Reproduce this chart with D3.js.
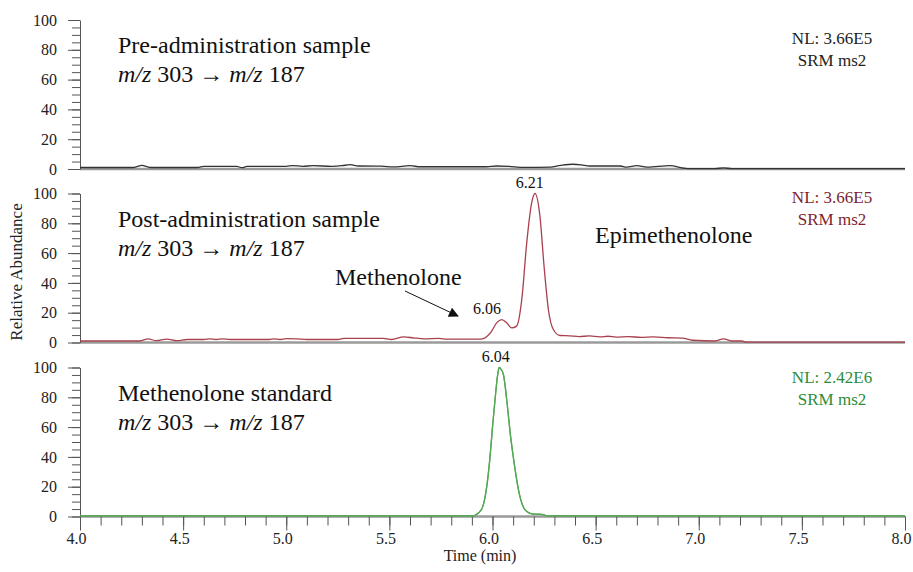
<!DOCTYPE html>
<html>
<head>
<meta charset="utf-8">
<title>SRM chromatograms m/z 303 - 187</title>
<script src="https://d3js.org/d3.v7.min.js"></script>
<style>
  body { margin: 0; background: #fff; }
  text { font-family: "Liberation Serif", "Times New Roman", serif; }
</style>
</head>
<body>
<div id="chart"></div>
<script>
  // ---- data ----
  const timeTicks = [4.0, 4.5, 5.0, 5.5, 6.0, 6.5, 7.0, 7.5, 8.0];
  const abundanceTicks = [0, 20, 40, 60, 80, 100];

  const panelNames = ["Pre-administration sample", "Post-administration sample", "Methenolone standard"];
  const normLevels = ["NL: 3.66E5", "NL: 3.66E5", "NL: 2.42E6"];
  const scanTypes = ["SRM ms2", "SRM ms2", "SRM ms2"];

  const preTime  = [4.00, 4.26, 4.30, 4.34, 4.57, 4.60, 4.76, 4.785, 4.81, 5.00, 5.03, 5.08, 5.13, 5.22, 5.27, 5.31, 5.35, 5.46, 5.52, 5.60, 5.65, 5.97, 6.02, 6.08, 6.15, 6.28, 6.33, 6.39, 6.43, 6.47, 6.62, 6.65, 6.70, 6.75, 6.86, 6.93, 6.95, 7.08, 7.12, 7.16, 8.00];
  const preValue = [1.0, 1.0, 2.4, 1.0, 1.0, 1.8, 1.8, 0.9, 1.7, 1.8, 2.3, 1.8, 2.2, 1.8, 2.2, 2.9, 2.0, 1.9, 1.4, 2.2, 1.5, 1.5, 2.0, 1.8, 1.1, 1.3, 2.4, 3.2, 2.8, 2.0, 2.0, 1.2, 2.2, 1.3, 2.2, 0.5, 0.2, 0.2, 0.8, 0.2, 0.2];

  const postTime  = [4.00, 4.29, 4.33, 4.37, 4.42, 4.47, 4.52, 4.60, 4.63, 4.66, 4.69, 4.73, 4.92, 4.94, 4.97, 5.00, 5.05, 5.10, 5.25, 5.28, 5.47, 5.51, 5.57, 5.62, 5.67, 5.74, 5.78, 5.94, 5.964, 5.996, 6.02, 6.045, 6.069, 6.093, 6.117, 6.142, 6.166, 6.19, 6.206, 6.23, 6.25, 6.271, 6.295, 6.327, 6.375, 6.42, 6.47, 6.52, 6.56, 6.60, 6.66, 6.72, 6.78, 6.85, 6.92, 6.97, 7.08, 7.12, 7.16, 7.21, 7.23, 8.00];
  const postValue = [1.0, 1.0, 2.5, 1.2, 2.3, 1.2, 2.0, 2.0, 2.5, 2.0, 2.5, 2.0, 2.0, 2.5, 2.0, 2.6, 2.4, 2.0, 2.0, 2.8, 2.8, 2.0, 3.8, 3.0, 2.5, 2.8, 2.2, 2.2, 3.1, 7.6, 13.2, 15.4, 13.2, 9.8, 11.0, 28.9, 66.9, 93.8, 100, 84.8, 51.2, 22.0, 8.7, 4.7, 4.5, 4.0, 4.4, 3.8, 4.2, 3.6, 4.0, 3.4, 3.8, 3.2, 3.0, 1.5, 1.0, 2.5, 1.0, 1.0, 0.3, 0.3];

  const stdTime  = [4.00, 5.90, 5.915, 5.948, 5.97, 5.988, 6.00, 6.012, 6.025, 6.032, 6.045, 6.052, 6.072, 6.085, 6.101, 6.130, 6.150, 6.170, 6.190, 6.247, 6.263, 8.00];
  const stdValue = [0.4, 0.4, 0.8, 5, 18, 40, 60, 78, 95, 100, 98, 95.8, 74.5, 57, 39.8, 15.2, 6.2, 3.0, 1.8, 1.3, 0.4, 0.4];

  // labelled apexes
  const peakPanel = [1, 1, 2];
  const peakTime = [6.21, 6.06, 6.04];
  const peakHeight = [100, 15, 100];

  // ---- layout ----
  const width = 913, height = 572;
  const left = 80, right = 905;
  const panelTop = [20, 193.5, 367.5];
  const panelH = 149;
  const traceColor = ["#333333", "#a8404e", "#55a855"];
  const textColor = ["#222", "#7d1f30", "#2e8b3a"];
  const nlY = [44, 203, 383];
  const peakDx = [-6, -18, -5];

  const svg = d3.select("#chart")
          .append("svg")
          .attr("width", width)
          .attr("height", height)
          .style("background", "#fff");

  const x = d3.scaleLinear().domain([4, 8]).range([left, right]);

  const series = [
    preTime.map((t, i) => [t, preValue[i]]),
    postTime.map((t, i) => [t, postValue[i]]),
    stdTime.map((t, i) => [t, stdValue[i]])
  ];

  const ys = panelTop.map(top => d3.scaleLinear().domain([0, 100]).range([top + panelH, top]));

  ys.forEach((y, p) => {
    const g = svg.append("g");

    // baseline at zero abundance
    g.append("line")
            .attr("x1", left).attr("x2", right)
            .attr("y1", y(0)).attr("y2", y(0))
            .attr("stroke", "#9a9a9a")
            .attr("stroke-width", 2.5);

    // minor ticks every 5 %
    g.append("g")
            .attr("transform", `translate(${left},0)`)
            .call(d3.axisLeft(y).tickValues(d3.range(0, 101, 5)).tickSize(8).tickFormat(""))
            .call(a => a.select(".domain").remove())
            .selectAll("line").attr("stroke", "#555");

    const ax = g.append("g")
            .attr("transform", `translate(${left},0)`)
            .call(d3.axisLeft(y).tickValues(abundanceTicks).tickSize(12).tickPadding(11).tickSizeOuter(0));
    ax.select(".domain").attr("stroke", "#555");
    ax.selectAll("line").attr("stroke", "#555");
    ax.selectAll("text").attr("font-size", 16).attr("fill", "#222")
            .style("font-family", "'Liberation Serif', serif");

    const line = d3.line()
            .x(d => x(d[0]))
            .y(d => y(d[1]))
            .curve(d3.curveMonotoneX);

    g.append("path")
            .datum(series[p])
            .attr("fill", "none")
            .attr("stroke", traceColor[p])
            .attr("stroke-width", 1.3)
            .attr("d", line);

    // sample description
    const top = panelTop[p];
    g.append("text")
            .attr("x", 118).attr("y", top + 33)
            .attr("font-size", 24).attr("fill", "#111")
            .text(panelNames[p]);
    const mz = g.append("text")
            .attr("x", 118).attr("y", top + 62)
            .attr("font-size", 24).attr("fill", "#111");
    mz.append("tspan").attr("font-style", "italic").text("m/z");
    mz.append("tspan").text(" 303 \u2192 ");
    mz.append("tspan").attr("font-style", "italic").text("m/z");
    mz.append("tspan").text(" 187");

    g.append("text")
            .attr("x", 832).attr("y", nlY[p])
            .attr("text-anchor", "middle")
            .attr("font-size", 17).attr("fill", textColor[p])
            .text(normLevels[p]);
    g.append("text")
            .attr("x", 832).attr("y", nlY[p] + 22)
            .attr("text-anchor", "middle")
            .attr("font-size", 17).attr("fill", textColor[p])
            .text(scanTypes[p]);
  });

  // time axis on the bottom panel
  const yb = ys[2](0);
  svg.append("g")
          .attr("transform", `translate(0,${yb})`)
          .call(d3.axisBottom(x).tickValues(d3.range(4, 8.001, 0.1)).tickSize(9).tickFormat(""))
          .call(a => a.select(".domain").remove())
          .selectAll("line").attr("stroke", "#555");
  const xa = svg.append("g")
          .attr("transform", `translate(0,${yb})`)
          .call(d3.axisBottom(x).tickValues(timeTicks).tickSize(14).tickPadding(2).tickSizeOuter(0)
                  .tickFormat(d3.format(".1f")));
  xa.select(".domain").remove();
  xa.selectAll("line").attr("stroke", "#555");
  xa.selectAll("text").attr("font-size", 16).attr("fill", "#222").attr("dx", -4)
          .style("font-family", "'Liberation Serif', serif");

  // redraw the standard trace on top of the ticks
  svg.append("path")
          .datum(series[2])
          .attr("fill", "none")
          .attr("stroke", traceColor[2])
          .attr("stroke-width", 1.3)
          .attr("d", d3.line().x(d => x(d[0])).y(d => ys[2](d[1])).curve(d3.curveMonotoneX));

  svg.append("text")
          .attr("x", 480).attr("y", 561)
          .attr("text-anchor", "middle")
          .attr("font-size", 16).attr("fill", "#222")
          .text("Time (min)");

  svg.append("text")
          .attr("transform", "translate(22,272) rotate(-90)")
          .attr("text-anchor", "middle")
          .attr("font-size", 17).attr("fill", "#222")
          .text("Relative Abundance");

  // apex retention times
  peakTime.forEach((t, i) => {
    const y = ys[peakPanel[i]];
    svg.append("text")
            .attr("x", x(t) + peakDx[i])
            .attr("y", y(peakHeight[i]) - 6)
            .attr("text-anchor", "middle")
            .attr("font-size", 16).attr("fill", "#111")
            .text(t.toFixed(2));
  });

  // compound annotations in the post-administration panel
  svg.append("text")
          .attr("x", 595).attr("y", 243)
          .attr("font-size", 24).attr("fill", "#111")
          .text("Epimethenolone");
  svg.append("text")
          .attr("x", 335).attr("y", 285)
          .attr("font-size", 24).attr("fill", "#111")
          .text("Methenolone");

  svg.append("defs").append("marker")
          .attr("id", "head")
          .attr("viewBox", "0 0 10 10")
          .attr("refX", 9).attr("refY", 5)
          .attr("markerWidth", 12).attr("markerHeight", 10)
          .attr("markerUnits", "userSpaceOnUse")
          .attr("orient", "auto")
          .append("path").attr("d", "M0,0L10,5L0,10Z").attr("fill", "#111");
  svg.append("line")
          .attr("x1", 405).attr("y1", 291)
          .attr("x2", 458).attr("y2", 316)
          .attr("stroke", "#111").attr("stroke-width", 1)
          .attr("marker-end", "url(#head)");
</script>
</body>
</html>
